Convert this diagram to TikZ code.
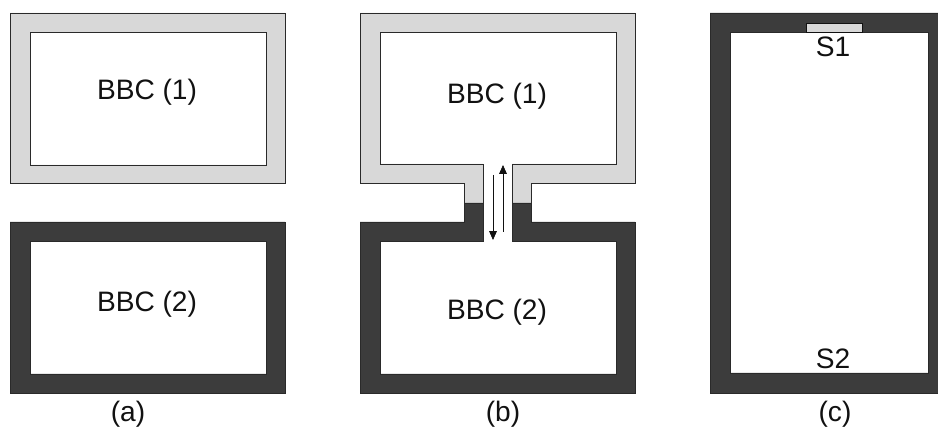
\documentclass[tikz,border=0pt]{standalone}
\usepackage{fontspec}
\setmainfont{Liberation Sans}
\usetikzlibrary{arrows.meta}
\definecolor{ink}{HTML}{111111}
\definecolor{edge}{HTML}{2A2A2A}
\definecolor{lightwall}{HTML}{D8D8D8}
\definecolor{darkwall}{HTML}{3C3C3C}

\begin{document}
\begin{tikzpicture}[
  x=0.03cm, y=-0.03cm,
  font=\fontsize{24pt}{28pt}\selectfont,
  wall/.style={draw=edge,line width=0.6pt,even odd rule},
  light/.style={wall,fill=lightwall},
  dark/.style={wall,fill=darkwall},
  txt/.style={text=ink,inner sep=0pt},
  flow/.style={-{Triangle[length=7.5pt,width=6.5pt]},line width=0.6pt,draw=ink}
]
\useasboundingbox (0,0) rectangle (938,431);

% (a) separate cavities
\path[light] (10,13) rectangle (285,183) (30,32) rectangle (266,165);
\path[dark] (10,222) rectangle (285,393) (30,241) rectangle (266,374);
\node[txt] (a1) at (147,92) {BBC (1)};
\node[txt] (a2) at (147,304) {BBC (2)};
\node[txt] (alab) at (128,414) {(a)};

% (b) coupled cavities
\path[light] (360,13) -- (635,13) -- (635,183) -- (531,183) -- (531,203)
  -- (512,203) -- (512,164) -- (616,164) -- (616,32) -- (380,32) -- (380,164)
  -- (483,164) -- (483,203) -- (464,203) -- (464,183) -- (360,183) -- cycle;
\path[dark] (360,222) -- (464,222) -- (464,203) -- (483,203) -- (483,241)
  -- (380,241) -- (380,374) -- (616,374) -- (616,241) -- (512,241) -- (512,203)
  -- (531,203) -- (531,222) -- (635,222) -- (635,393) -- (360,393) -- cycle;
\node[txt] (b1) at (497,96) {BBC (1)};
\node[txt] (b2) at (497,312) {BBC (2)};
\node[txt] (blab) at (503,414) {(b)};

\coordinate (downtop) at (493,175);
\coordinate (downbot) at (493,240);
\coordinate (upbot) at (503,232);
\coordinate (uptop) at (503,165);
\draw[flow] (downtop) -- (downbot);
\draw[flow] (upbot) -- (uptop);

% (c) single cavity
\path[dark] (710,13) rectangle (938,393) (730,32) rectangle (928,373);
\path[light,draw=ink,line width=0.8pt] (806,23) rectangle (862,32);
\node[txt] (s1) at (833,47) {S1};
\node[txt] (s2) at (833,359) {S2};
\node[txt] (clab) at (835,414) {(c)};

\end{tikzpicture}
\end{document}
